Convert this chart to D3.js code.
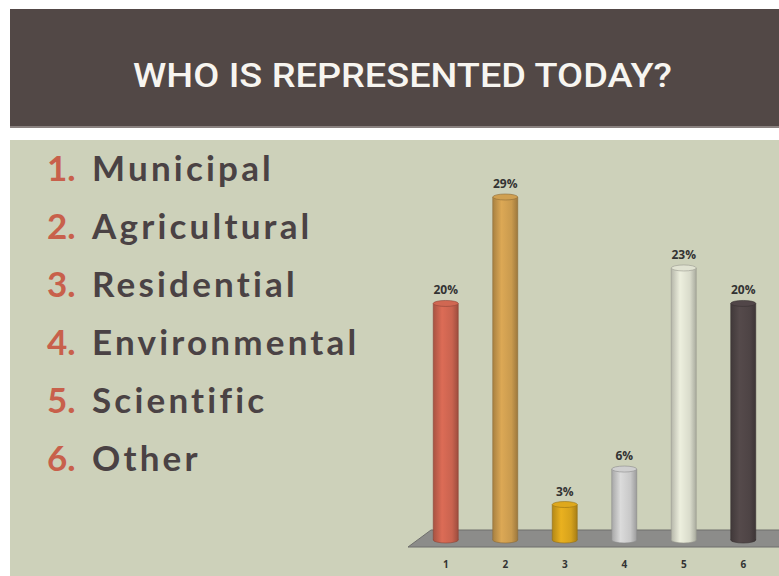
<!DOCTYPE html>
<html>
<head>
<meta charset="utf-8">
<script src="https://cdn.jsdelivr.net/npm/d3@7"></script>
<style>
  body { margin: 0; background: #fff; }
  svg { display: block; }
</style>
</head>
<body>
<div id="chart"></div>
<script>
var width = 779;
var height = 576;

var title = "WHO IS REPRESENTED TODAY?";

var categories = ["1", "2", "3", "4", "5", "6"];
var groups = ["Municipal", "Agricultural", "Residential", "Environmental", "Scientific", "Other"];
var values = [20, 29, 3, 6, 23, 20];
var colors = ["#c9634f", "#c99a4e", "#d6a21c", "#c8c8c8", "#d9dbcb", "#4e4445"];

var svg = d3.select("#chart")
	.append("svg")
		.attr("width", width)
		.attr("height", height)
	;

// background panels
svg.append("rect")
	.attr("x", 10).attr("y", 9)
	.attr("width", width - 10).attr("height", 118)
	.attr("fill", "#524846");
svg.append("rect")
	.attr("x", 10).attr("y", 126)
	.attr("width", width - 10).attr("height", 2)
	.attr("fill", "#8a8280");
svg.append("rect")
	.attr("x", 10).attr("y", 140)
	.attr("width", width - 10).attr("height", height - 140)
	.attr("fill", "#cdd1ba");

svg.append("text")
	.attr("x", 133).attr("y", 87)
	.attr("textLength", 539)
	.attr("lengthAdjust", "spacingAndGlyphs")
	.attr("font-family", "'Liberation Sans Narrow', 'Roboto', sans-serif")
	.attr("font-size", 33)
	.attr("font-weight", 500)
	.attr("fill", "#f7f5f0")
	.text(title);

// numbered list
var list = svg.append("g")
	.selectAll("text")
	.data(groups)
	.enter()
	.append("text")
		.attr("x", 47)
		.attr("y", (d, i) => 181 + i * 58)
		.attr("font-family", "Lato, 'Open Sans', sans-serif")
		.attr("font-size", 35)
		.attr("font-weight", "bold")
		.attr("letter-spacing", 3.2)
	;
list.append("tspan")
	.attr("fill", "#c8604b")
	.attr("letter-spacing", 0)
	.text((d, i) => (i + 1) + ".");
list.append("tspan")
	.attr("x", 92)
	.attr("fill", "#4a4244")
	.text(d => d);

// chart scales
var x = d3.scaleBand()
	.domain(categories)
	.range([416, 773])
	.paddingInner(0.58)
	.paddingOuter(0.29);

var y = d3.scaleLinear()
	.domain([0, 29])
	.range([540, 197]);

// floor
var floorTop = 530, floorBottom = 547;
svg.append("polygon")
	.attr("points", [[431, floorTop], [width + 20, floorTop], [width, floorBottom], [408, floorBottom]].join(" "))
	.attr("fill", "#8c8c8a")
	.attr("stroke", "#6f6f6c")
	.attr("stroke-width", 1);

// gradients for cylinders
var defs = svg.append("defs");
colors.forEach(function (c, i) {
	var g = defs.append("linearGradient")
		.attr("id", "cyl" + i)
		.attr("x1", "0%").attr("x2", "100%");
	var base = d3.color(c);
	g.append("stop").attr("offset", "0%").attr("stop-color", base.darker(0.5));
	g.append("stop").attr("offset", "35%").attr("stop-color", base.brighter(0.25));
	g.append("stop").attr("offset", "75%").attr("stop-color", base);
	g.append("stop").attr("offset", "100%").attr("stop-color", base.darker(0.7));
});

var ry = 3;
var bars = svg.append("g")
	.selectAll("g")
	.data(values)
	.enter()
	.append("g");

bars.append("ellipse")
	.attr("cx", (d, i) => x(categories[i]) + x.bandwidth() / 2)
	.attr("cy", y(0))
	.attr("rx", x.bandwidth() / 2)
	.attr("ry", ry)
	.attr("fill", (d, i) => "url(#cyl" + i + ")")
	.attr("stroke", (d, i) => d3.color(colors[i]).darker(1))
	.attr("stroke-width", 0.6);

bars.append("rect")
	.attr("x", (d, i) => x(categories[i]))
	.attr("y", d => y(d))
	.attr("width", x.bandwidth())
	.attr("height", d => y(0) - y(d))
	.attr("fill", (d, i) => "url(#cyl" + i + ")");

bars.append("path")
	.attr("d", (d, i) => {
		var x0 = x(categories[i]), x1 = x0 + x.bandwidth();
		return "M" + x0 + "," + y(d) + "V" + y(0) + "M" + x1 + "," + y(d) + "V" + y(0);
	})
	.attr("stroke", (d, i) => d3.color(colors[i]).darker(1))
	.attr("stroke-width", 0.6);

bars.append("ellipse")
	.attr("cx", (d, i) => x(categories[i]) + x.bandwidth() / 2)
	.attr("cy", d => y(d))
	.attr("rx", x.bandwidth() / 2)
	.attr("ry", ry)
	.attr("fill", (d, i) => d3.color(colors[i]).brighter(0.1))
	.attr("stroke", (d, i) => d3.color(colors[i]).darker(1))
	.attr("stroke-width", 0.6);

// value labels
bars.append("text")
	.attr("x", (d, i) => x(categories[i]) + x.bandwidth() / 2)
	.attr("y", d => y(d) - 9)
	.attr("text-anchor", "middle")
	.attr("font-family", "'Open Sans', sans-serif")
	.attr("font-size", 12)
	.attr("font-weight", "bold")
	.attr("fill", "#333")
	.text(d => d + "%");

// x axis labels
var xAxis = svg.append("g")
	.attr("transform", "translate(0,561)")
	.call(d3.axisBottom(x).tickSize(0).tickPadding(0));
xAxis.select(".domain").remove();
xAxis.selectAll("text")
	.attr("font-family", "'Open Sans', sans-serif")
	.attr("font-size", 10)
	.attr("font-weight", "bold")
	.attr("fill", "#333");
</script>
</body>
</html>
